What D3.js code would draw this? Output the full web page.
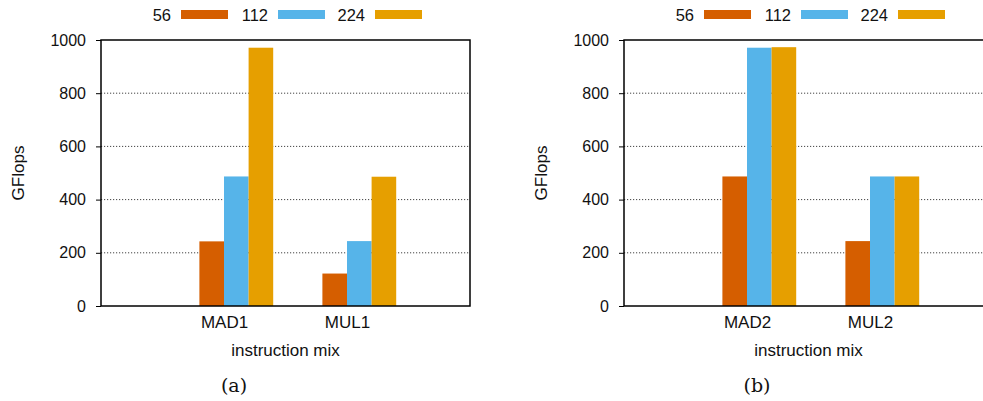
<!DOCTYPE html>
<html>
<head>
<meta charset="utf-8">
<script src="https://cdn.jsdelivr.net/npm/d3@7/dist/d3.min.js"></script>
<style>
  html, body { margin: 0; padding: 0; background: #fff; }
  svg { display: block; }
  text { font-family: "Liberation Sans", Arial, Helvetica, sans-serif; fill: #111; }
  .cap { font-family: "DejaVu Serif", "Liberation Serif", serif; }
</style>
</head>
<body>
<svg id="chart" width="983" height="401"></svg>
<script>
// Thread counts (legend series)
const series = ["56", "112", "224"];
const colors = ["#D55E00", "#56B4E9", "#E69F00"];

// Panel (a): MAD1 / MUL1
const catsA = ["MAD1", "MUL1"];
const valsA = [
  [243, 487, 971],   // MAD1
  [122, 244, 486]    // MUL1
];

// Panel (b): MAD2 / MUL2
const catsB = ["MAD2", "MUL2"];
const valsB = [
  [487, 971, 973],   // MAD2
  [244, 487, 487]    // MUL2
];

const yTicks = [0, 200, 400, 600, 800, 1000];
const captions = ["(a)", "(b)"];
const yTitle = "GFlops";
const xTitle = "instruction mix";

const svg = d3.select("#chart");

function panel(left, cats, vals, caption) {
  const top = 40, bottom = 306, width = 369;
  const g = svg.append("g");

  const x = d3.scaleLinear().domain([-0.1, 2.9]).range([left, left + width]);
  const y = d3.scaleLinear().domain([0, 1000]).range([bottom, top]);
  const barW = 0.2;

  // dotted horizontal grid
  g.append("g").selectAll("line")
    .data(yTicks.filter(t => t > 0 && t < 1000))
    .join("line")
    .attr("x1", left).attr("x2", left + width)
    .attr("y1", d => y(d)).attr("y2", d => y(d))
    .attr("stroke", "#444").attr("stroke-width", 1)
    .attr("stroke-dasharray", "1.2,1.8");

  // bars
  cats.forEach((c, ci) => {
    const center = ci + 1;
    g.append("g").selectAll("rect")
      .data(vals[ci])
      .join("rect")
      .attr("x", (d, si) => x(center + (si - 1.5) * barW))
      .attr("width", x(barW) - x(0))
      .attr("y", d => y(d))
      .attr("height", d => y(0) - y(d))
      .attr("fill", (d, si) => colors[si]);
  });

  // frame
  g.append("rect")
    .attr("x", left).attr("y", top)
    .attr("width", width).attr("height", bottom - top)
    .attr("fill", "none").attr("stroke", "#000").attr("stroke-width", 1.5);

  // y axis
  const yAxis = d3.axisLeft(y).tickValues(yTicks).tickSize(5).tickPadding(10)
    .tickFormat(d3.format("d"));
  const ya = g.append("g").attr("transform", `translate(${left},0)`).call(yAxis);
  ya.select(".domain").remove();
  ya.selectAll(".tick line").attr("stroke", "#000").attr("stroke-width", 1);
  ya.selectAll(".tick text")
    .style("font-family", "Liberation Sans, Arial, sans-serif")
    .style("font-size", "16px").attr("fill", "#111");

  // x category labels sit under the left half of each cluster
  const xAxis = d3.axisBottom(x).tickValues(cats.map((c, i) => i + 1 - 0.1))
    .tickFormat((d, i) => cats[i]).tickSize(0).tickPadding(10);
  const xa = g.append("g").attr("transform", `translate(0,${bottom})`).call(xAxis);
  xa.select(".domain").remove();
  xa.selectAll(".tick text")
    .style("font-family", "Liberation Sans, Arial, sans-serif")
    .style("font-size", "17px").attr("fill", "#111");

  // axis titles
  g.append("text")
    .attr("transform", `translate(${left - 77},${(top + bottom) / 2}) rotate(-90)`)
    .attr("text-anchor", "middle")
    .style("font-size", "17px")
    .text(yTitle);

  g.append("text")
    .attr("x", left + width / 2).attr("y", 356)
    .attr("text-anchor", "middle")
    .style("font-size", "17px")
    .text(xTitle);

  // caption
  g.append("text").attr("class", "cap")
    .attr("x", left + 133).attr("y", 392)
    .attr("text-anchor", "middle")
    .style("font-size", "19px")
    .text(caption);

  // legend
  const lg = g.append("g").selectAll("g").data(series).join("g")
    .attr("transform", (d, i) => `translate(${left + 80 + i * 97},0)`);
  lg.append("rect")
    .attr("x", 0).attr("y", 10).attr("width", 47).attr("height", 9)
    .attr("fill", (d, i) => colors[i]);
  lg.append("text")
    .attr("x", -10).attr("y", 20.5)
    .attr("text-anchor", "end")
    .style("font-size", "16.5px")
    .text(d => d);
}

panel(101, catsA, valsA, captions[0]);
panel(624, catsB, valsB, captions[1]);
</script>
</body>
</html>
